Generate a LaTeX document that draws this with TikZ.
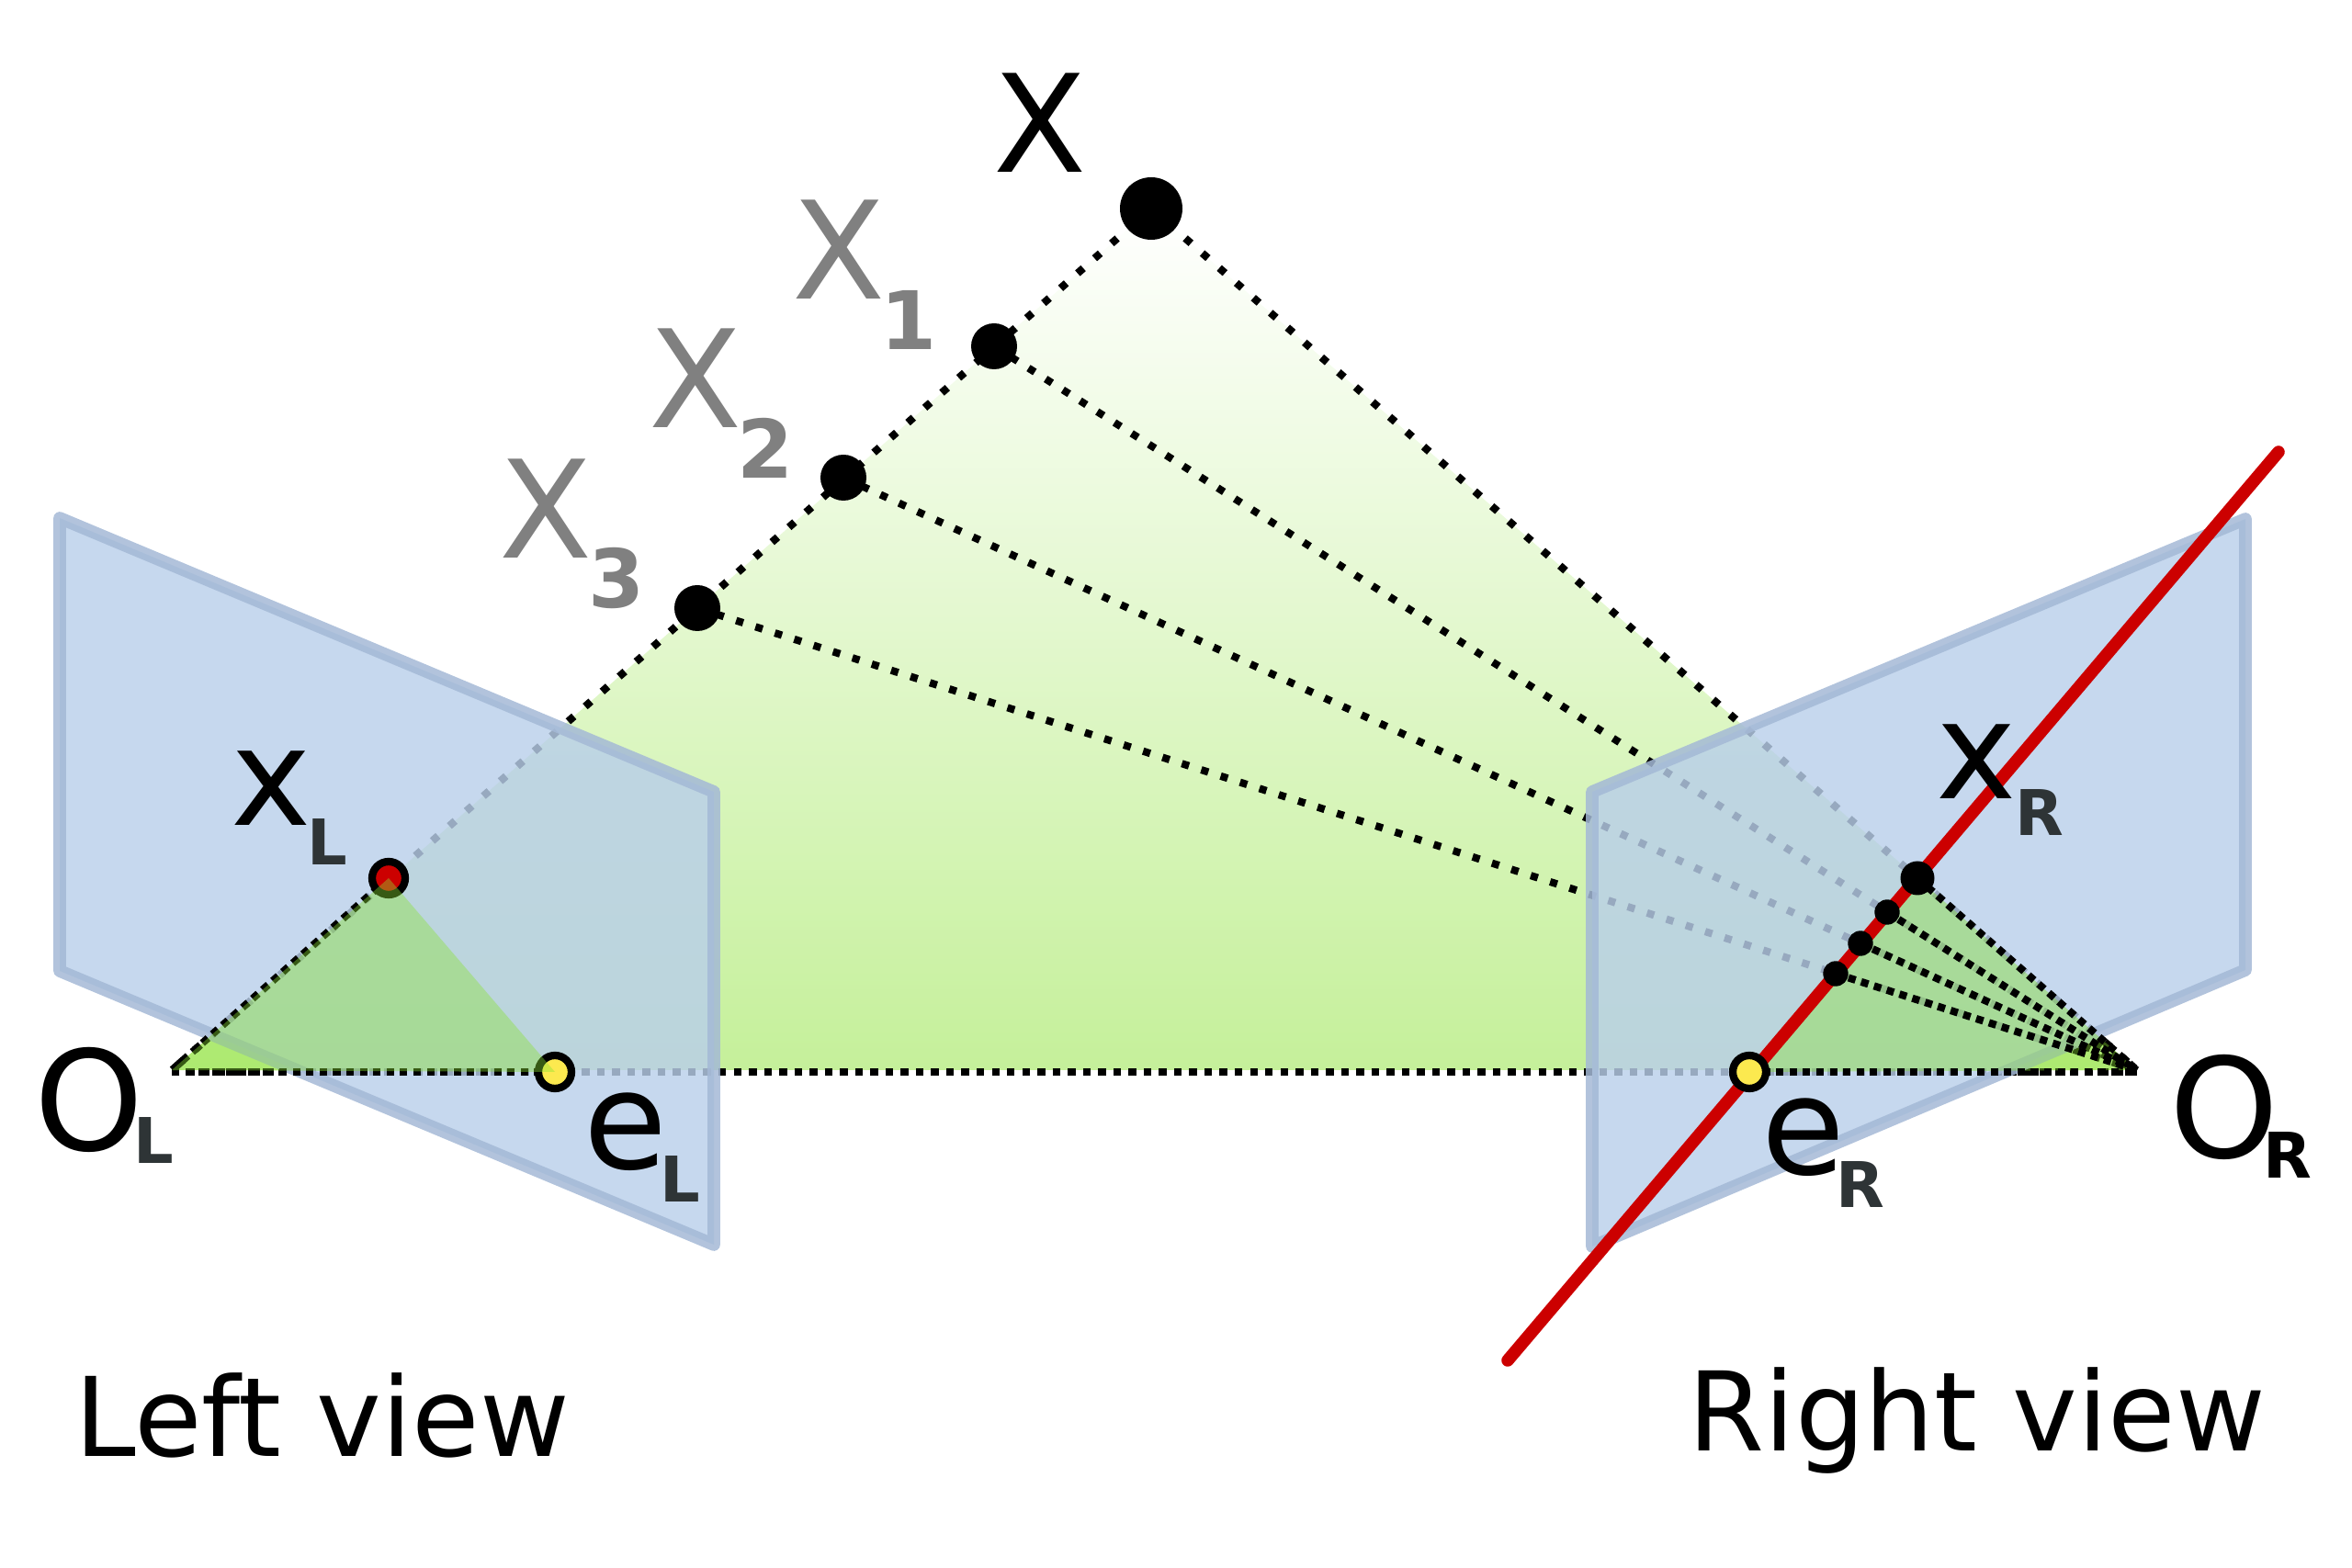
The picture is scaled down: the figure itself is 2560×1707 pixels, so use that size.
\documentclass[tikz,border=0pt]{standalone}
\usepackage{fontspec}
\setmainfont{DejaVu Sans}
\definecolor{planefill}{HTML}{B9CFEA}
\definecolor{planeline}{HTML}{A4B9D6}
\definecolor{rayfill}{HTML}{C5F09A}
\definecolor{tipfill}{HTML}{8AE234}
\definecolor{lineRed}{HTML}{CC0000}
\definecolor{dotYellow}{HTML}{FCE94F}
\definecolor{subDark}{HTML}{2E3436}
\definecolor{rayGray}{HTML}{808080}
\tikzset{
  ray/.style={line width=2.35pt,dash pattern=on 2.35pt off 4.65pt},
  midray/.style={line width=2.3pt,dash pattern=on 2.3pt off 4pt},
  baseray/.style={line width=2.4pt,dash pattern=on 2.4pt off 2.3pt},
  frontray/.style={line width=2.3pt,dash pattern=on 2.3pt off 1.85pt},
  plane/.style={fill=planefill,fill opacity=0.82,draw=planeline,draw opacity=0.85,line width=3.9pt,line join=round},
  tip/.style={fill=tipfill,fill opacity=0.4},
  mainlabel/.style={anchor=base west,inner sep=0pt,font=\fontsize{42pt}{42pt}\selectfont},
  biglabel/.style={anchor=base west,inner sep=0pt,font=\fontsize{43pt}{43pt}\selectfont},
  sublabel/.style={anchor=base west,inner sep=0pt,text=subDark,font=\fontsize{19.5pt}{19.5pt}\selectfont\bfseries},
  numlabel/.style={anchor=base west,inner sep=0pt,text=rayGray,font=\fontsize{25pt}{25pt}\selectfont\bfseries},
  viewlabel/.style={anchor=base west,inner sep=0pt,font=\fontsize{34pt}{34pt}\selectfont},
  ringdot/.style={draw=black,line width=2.35pt},
}
\begin{document}
\begin{tikzpicture}[x=0.01cm,y=-0.01cm]
\useasboundingbox (0,0) rectangle (2560,1707);
\coordinate (OL) at (187,1165);
\coordinate (OR) at (2326,1165);
\coordinate (OLb) at (187,1167);
\coordinate (ORb) at (2326,1167);
\coordinate (X) at (1253,227);
\coordinate (X1) at (1082,377);
\coordinate (X2) at (918,520);
\coordinate (X3) at (759,662);
\coordinate (xL) at (423,956);
\coordinate (eL) at (604,1167);
\coordinate (eR) at (1904,1167);
\coordinate (xR) at (2087,956);
\coordinate (xR1) at (2054,993);
\coordinate (xR2) at (2025,1027);
\coordinate (xR3) at (1998,1060);
\coordinate (epiA) at (2480,492);
\coordinate (epiB) at (1641,1481);
% epipolar plane
\shade[top color=white,bottom color=rayfill] (OL)--(X)--(OR)--cycle;
% rays behind the image planes
\draw[ray] (X)--(OL);
\draw[ray] (X)--(OR);
\draw[midray] (X1)--(OR);
\draw[midray] (X2)--(OR);
\draw[midray] (X3)--(OR);
\draw[baseray] (OLb)--(ORb);
% image planes
\draw[plane] (65,564)--(777,862)--(777,1355)--(65,1057)--cycle;
\draw[plane] (2444,565)--(1733,862)--(1733,1357)--(2444,1056)--cycle;
% rays in front of the image planes
\draw[frontray] (xL)--(OL);
\draw[frontray] (eL)--(OLb);
\draw[ringdot,fill=lineRed] (xL) circle[radius=18];
\draw[ringdot,fill=dotYellow] (eL) circle[radius=18];
\fill[tip] (OL)--(xL)--(eL)--cycle;
\fill[tip] (OR)--(xR)--(eR)--cycle;
\foreach \p in {xR,xR1,xR2,xR3}{
\draw[frontray] (\p)--(OR);
}
\draw[frontray] (eR)--(ORb);
\draw[color=lineRed,line width=3.85pt,line cap=round] (epiA)--(epiB);
\draw[ringdot,fill=dotYellow] (eR) circle[radius=18];
\fill (X) circle[radius=34];
\foreach \p in {X1,X2,X3}{
\fill (\p) circle[radius=25];
}
\fill (xR) circle[radius=18.5];
\foreach \p in {xR1,xR2,xR3}{
\fill (\p) circle[radius=13.7];
}
% labels
\node[mainlabel] (labX) at (1081,188) {X};
\node[mainlabel,text=rayGray] (labX1) at (862,326) {X};
\node[numlabel] (subX1) at (958,381) {1};
\node[mainlabel,text=rayGray] (labX2) at (706,466) {X};
\node[numlabel] (subX2) at (802,521) {2};
\node[mainlabel,text=rayGray] (labX3) at (543,608) {X};
\node[numlabel] (subX3) at (640,662) {3};
\node[mainlabel] (labxL) at (251,899) {x};
\node[sublabel] (subxL) at (334,942) {L};
\node[biglabel] (labOL) at (37,1252) {O};
\node[sublabel] (subOL) at (145,1266) {L};
\node[mainlabel] (labeL) at (635,1272) {e};
\node[sublabel] (subeL) at (718,1308) {L};
\node[mainlabel] (labxR) at (2107,870) {x};
\node[sublabel] (subxR) at (2193,910) {R};
\node[mainlabel] (labeR) at (1917,1278) {e};
\node[sublabel] (subeR) at (1998,1314) {R};
\node[biglabel] (labOR) at (2361,1260) {O};
\node[sublabel,text=black] (subOR) at (2463,1282) {R};
\node[viewlabel] (viewL) at (81,1585) {Left view};
\node[viewlabel] (viewR) at (1837,1579) {Right view};
\end{tikzpicture}
\end{document}
